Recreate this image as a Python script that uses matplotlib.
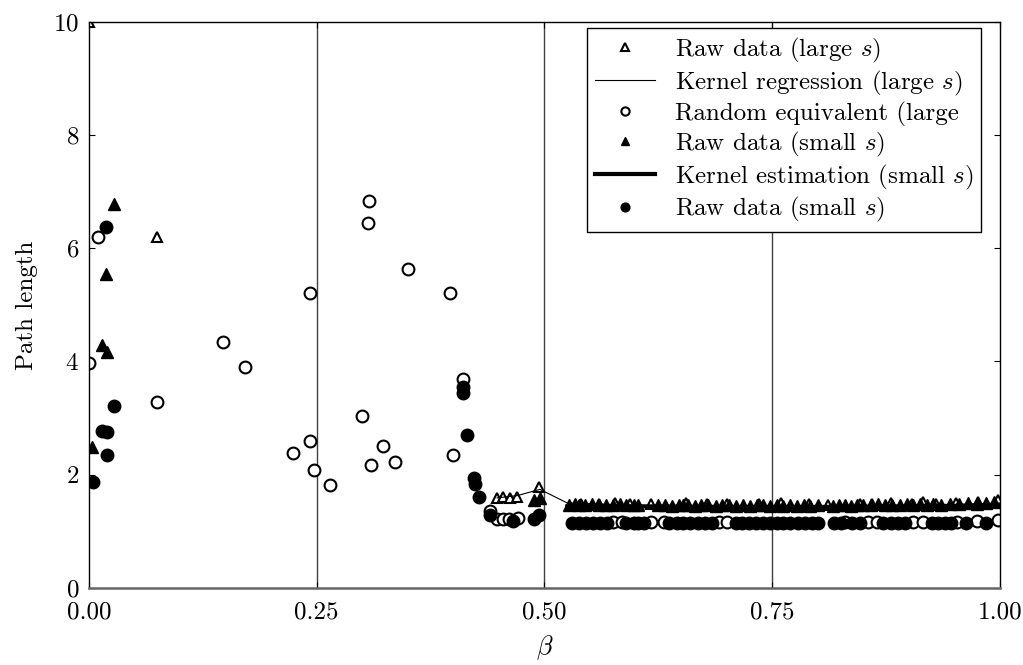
import matplotlib
matplotlib.use("Agg")
import matplotlib.pyplot as plt

plt.rcParams['font.family'] = 'serif'
plt.rcParams['font.serif'] = ['cmr10']
plt.rcParams['mathtext.fontset'] = 'cm'
plt.rcParams['axes.formatter.use_mathtext'] = True

# Raw data (large s) - open triangles
large_x = [0.0, 0.075, 0.448, 0.455, 0.462, 0.470, 0.494,
           0.540, 0.560, 0.577, 0.594, 0.617, 0.655, 0.678, 0.700, 0.735, 0.760,
           0.790, 0.811, 0.846, 0.860, 0.880, 0.903, 0.915, 0.930, 0.952, 0.976, 0.998]
large_y = [10.0, 6.2, 1.59, 1.60, 1.59, 1.61, 1.79,
           1.49, 1.48, 1.50, 1.49, 1.48, 1.50, 1.49, 1.48, 1.49, 1.50,
           1.48, 1.47, 1.49, 1.48, 1.50, 1.49, 1.51, 1.49, 1.50, 1.52, 1.56]

# Kernel regression (large s)
kreg_x = [0.448, 0.470, 0.495, 0.525, 0.60, 0.70, 0.80, 0.90, 0.95, 1.0]
kreg_y = [1.59, 1.63, 1.74, 1.50, 1.46, 1.45, 1.45, 1.46, 1.47, 1.50]

# Random equivalent (large) - open circles
rand_x = [0.0, 0.010, 0.075, 0.147, 0.171, 0.243, 0.307, 0.306, 0.350, 0.396,
          0.410, 0.300, 0.243, 0.224, 0.323, 0.310, 0.336, 0.247, 0.265, 0.400,
          0.440, 0.448, 0.455, 0.461, 0.471,
          0.575, 0.585, 0.617, 0.631, 0.692, 0.700, 0.830, 0.855, 0.865,
          0.905, 0.915, 0.953, 0.975, 0.998]
rand_y = [3.97, 6.20, 3.28, 4.35, 3.91, 5.21, 6.84, 6.45, 5.64, 5.21,
          3.69, 3.04, 2.60, 2.38, 2.51, 2.17, 2.23, 2.08, 1.82, 2.35,
          1.36, 1.22, 1.22, 1.22, 1.24,
          1.17, 1.17, 1.17, 1.16, 1.17, 1.17, 1.16, 1.17, 1.17,
          1.17, 1.17, 1.17, 1.18, 1.20]

# Raw data (small s) - filled triangles
small_x = [0.003, 0.014, 0.019, 0.020, 0.027, 0.488, 0.495,
           0.527, 0.533, 0.538, 0.544, 0.552, 0.560, 0.567, 0.575, 0.583, 0.590,
           0.598, 0.603, 0.625, 0.632, 0.640, 0.648, 0.652, 0.658, 0.665, 0.672,
           0.680, 0.688, 0.695, 0.703, 0.710, 0.718, 0.726, 0.733, 0.740, 0.748,
           0.755, 0.762, 0.770, 0.777, 0.785, 0.792, 0.800, 0.817, 0.823, 0.830,
           0.837, 0.843, 0.850, 0.858, 0.866, 0.874, 0.882, 0.890, 0.898, 0.905,
           0.912, 0.920, 0.927, 0.935, 0.945, 0.955, 0.965, 0.975, 0.985, 0.993]
small_y = [2.49, 4.29, 5.55, 4.17, 6.78, 1.55, 1.59,
           1.47, 1.48, 1.46, 1.47, 1.48, 1.46, 1.47, 1.46, 1.48, 1.47,
           1.46, 1.47, 1.46, 1.47, 1.45, 1.46, 1.47, 1.46, 1.45, 1.47,
           1.46, 1.45, 1.46, 1.47, 1.45, 1.46, 1.45, 1.47, 1.46, 1.45,
           1.46, 1.45, 1.47, 1.45, 1.46, 1.45, 1.46, 1.45, 1.46, 1.47,
           1.45, 1.46, 1.47, 1.46, 1.48, 1.46, 1.47, 1.46, 1.48, 1.47,
           1.49, 1.47, 1.48, 1.47, 1.49, 1.48, 1.50, 1.49, 1.50, 1.52]

# Kernel estimation (small s)
kest_x = [0.525, 0.60, 0.70, 0.80, 0.90, 1.0]
kest_y = [1.44, 1.44, 1.43, 1.43, 1.44, 1.46]

# Raw data (small s) - filled circles
circ_x = [0.004, 0.014, 0.019, 0.020, 0.020, 0.027,
          0.410, 0.410, 0.415, 0.423, 0.424, 0.428, 0.440, 0.465, 0.488, 0.494,
          0.530, 0.538, 0.546, 0.553, 0.561, 0.569, 0.590, 0.598, 0.603, 0.609,
          0.637, 0.645, 0.652, 0.660, 0.668, 0.676, 0.684, 0.710, 0.717, 0.724,
          0.732, 0.740, 0.748, 0.755, 0.762, 0.770, 0.778, 0.786, 0.794, 0.800,
          0.818, 0.825, 0.838, 0.846, 0.872, 0.880, 0.888, 0.896, 0.925, 0.932,
          0.940, 0.946, 0.963, 0.985]
circ_y = [1.87, 2.77, 6.37, 2.76, 2.35, 3.22,
          3.55, 3.45, 2.70, 1.95, 1.83, 1.61, 1.29, 1.19, 1.22, 1.28,
          1.15, 1.15, 1.15, 1.15, 1.15, 1.15, 1.15, 1.15, 1.15, 1.15,
          1.15, 1.15, 1.15, 1.15, 1.15, 1.15, 1.15, 1.15, 1.15, 1.15,
          1.15, 1.15, 1.15, 1.15, 1.15, 1.15, 1.15, 1.15, 1.15, 1.15,
          1.15, 1.15, 1.15, 1.15, 1.15, 1.15, 1.15, 1.15, 1.15, 1.15,
          1.15, 1.15, 1.15, 1.15]

fig = plt.figure(figsize=(10.23, 6.65), dpi=100)
ax = fig.add_axes([0.087, 0.116, 0.8905, 0.851])

for xv in [0.25, 0.5, 0.75]:
    ax.axvline(xv, color='0.25', lw=1.0, zorder=0)

ax.plot(large_x, large_y, '^', ms=7.5, mfc='white', mec='black', mew=1.5,
        ls='none', label=r'Raw data (large $s$)')
ax.plot(kreg_x, kreg_y, '-', color='black', lw=0.8,
        label=r'Kernel regression (large $s$)')
ax.plot(rand_x, rand_y, 'o', ms=8.5, mfc='white', mec='black', mew=1.5,
        ls='none', label=r'Random equivalent (large')
ax.plot(small_x, small_y, '^', ms=8, mfc='black', mec='black',
        ls='none', label=r'Raw data (small $s$)')
ax.plot(kest_x, kest_y, '-', color='black', lw=3,
        label=r'Kernel estimation (small $s$)')
ax.plot(circ_x, circ_y, 'o', ms=9, mfc='black', mec='black',
        ls='none', label=r'Raw data (small $s$)')

ax.set_xlim(0, 1)
ax.set_ylim(0, 10)
ax.set_xticks([0, 0.25, 0.5, 0.75, 1.0])
ax.set_xticklabels(['0.00', '0.25', '0.50', '0.75', '1.00'])
ax.set_yticks([0, 2, 4, 6, 8, 10])
ax.tick_params(direction='in', length=4, labelsize=18, top=True, right=True)
ax.tick_params(axis='x', pad=10)
ax.tick_params(axis='y', pad=7)
for side in ['top', 'right', 'left']:
    ax.spines[side].set_color('black')
    ax.spines[side].set_linewidth(1.0)
ax.spines['bottom'].set_color('0.4')
ax.spines['bottom'].set_linewidth(1.8)

ax.set_xlabel(r'$\beta$', fontsize=19, labelpad=7)
ax.set_ylabel('Path length', fontsize=18, labelpad=11)

leg = ax.legend(loc='upper right', bbox_to_anchor=(0.979, 0.989), borderaxespad=0,
                fontsize=18, frameon=True, fancybox=False, framealpha=1,
                edgecolor='black', markerscale=0.7, handlelength=2.4,
                handletextpad=0.8, labelspacing=0.15, borderpad=0.3)
leg.get_frame().set_linewidth(1.0)

fig.savefig('out.png', dpi=100)
